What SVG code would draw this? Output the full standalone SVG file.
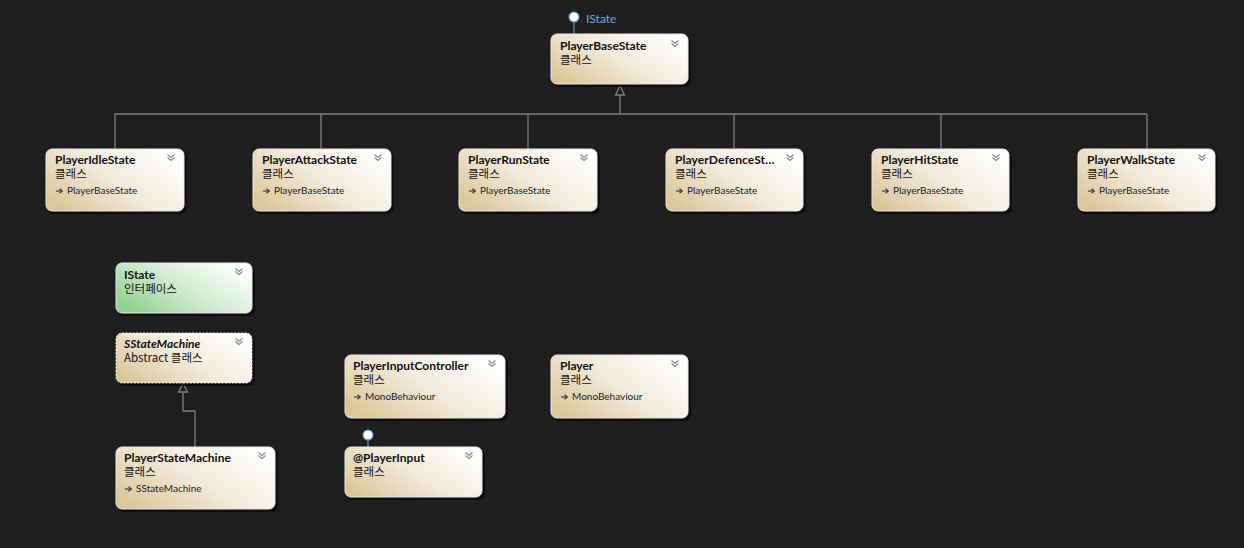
<svg xmlns="http://www.w3.org/2000/svg" width="1244" height="548" viewBox="0 0 1244 548">
<defs>
<linearGradient id="gc" x1="0" y1="0.8" x2="1" y2="0.2">
<stop offset="0" stop-color="#dac699"/>
<stop offset="0.5" stop-color="#f2ebdb"/>
<stop offset="1" stop-color="#ffffff"/>
</linearGradient>
<linearGradient id="gi" x1="0" y1="0.8" x2="1" y2="0.2">
<stop offset="0" stop-color="#90d090"/>
<stop offset="0.5" stop-color="#d2ecd2"/>
<stop offset="1" stop-color="#ffffff"/>
</linearGradient>
<symbol id="chev" viewBox="0 0 8 8" overflow="visible">
<polyline points="0.5,0.5 4,3.5 7.5,0.5" fill="none" stroke="#8a8a8a" stroke-width="1.2"/>
<polyline points="0.5,3.5 4,6.5 7.5,3.5" fill="none" stroke="#8a8a8a" stroke-width="1.2"/>
</symbol>
<symbol id="arr" viewBox="0 0 8 6" overflow="visible">
<line x1="0" y1="3" x2="6" y2="3" stroke="#333" stroke-width="1.1"/>
<polyline points="3.5,0.8 6.3,3 3.5,5.2" fill="none" stroke="#333" stroke-width="1.1"/>
</symbol>
</defs>
<style>
.bg{fill:#1e1e1e}
.sh{fill:#0a0a0a;opacity:0.8}
.box{fill:url(#gc);stroke:#e8e8e8;stroke-width:1}
.ibox{fill:url(#gi);stroke:#e8e8e8;stroke-width:1}
.abox{fill:url(#gc);stroke:#f0f0f0;stroke-width:1;stroke-dasharray:2 1.5}
.t{font-family:Lato,"Noto Sans CJK KR",sans-serif;font-size:12px;font-weight:bold;fill:#111}
.k{font-family:"Noto Sans CJK KR","Noto Sans",sans-serif;font-size:11.5px;fill:#111}
.s{font-family:Lato,"Noto Sans CJK KR",sans-serif;font-size:10px;fill:#222}
.lbl{font-family:Lato,sans-serif;font-size:12px;fill:#6fa8e0}
.conn{fill:none;stroke:#808080;stroke-width:1.3}
.tri{fill:#1e1e1e;stroke:#808080;stroke-width:1.3}
.lol{fill:#ffffff;stroke:#5b9bd5;stroke-width:1.2}
.lolline{stroke:#5b9bd5;stroke-width:1.2}
</style>
<rect class="bg" x="0" y="0" width="1244" height="548"/>

<g id="connectors">
<polyline class="conn" points="115,149 115,114 1147,114"/>
<line class="conn" x1="321" y1="114" x2="321" y2="149"/>
<line class="conn" x1="528" y1="114" x2="528" y2="149"/>
<line class="conn" x1="734" y1="114" x2="734" y2="149"/>
<line class="conn" x1="941" y1="114" x2="941" y2="149"/>
<line class="conn" x1="1147" y1="114" x2="1147" y2="149"/>
<line class="conn" x1="620" y1="95" x2="620" y2="114"/>
<polygon class="tri" points="620,85.5 615.5,95 624.5,95"/>
<polyline class="conn" points="183,392 183,411 195,411 195,447"/>
<polygon class="tri" points="183,383.5 178.5,392 187.5,392"/>
<line class="lolline" x1="574" y1="22" x2="574" y2="34"/>
<circle class="lol" cx="574" cy="17" r="5"/>
<text class="lbl" x="586" y="23">IState</text>
<line class="lolline" x1="368" y1="440" x2="368" y2="447"/>
<circle class="lol" cx="368" cy="435" r="5"/>
</g>

<g id="PlayerBaseState">
<rect class="sh" x="553" y="36" width="138" height="51" rx="6"/>
<rect class="box" x="551" y="34" width="137" height="50" rx="6"/>
<text class="t" x="560" y="50">PlayerBaseState</text>
<text class="k" x="560" y="64">클래스</text>
<use href="#chev" x="671" y="40" width="8" height="8"/>
</g>

<g id="PlayerIdleState">
<rect class="sh" x="48" y="151" width="139" height="63" rx="6"/>
<rect class="box" x="46" y="149" width="138" height="62" rx="6"/>
<text class="t" x="55" y="164">PlayerIdleState</text>
<text class="k" x="55" y="178">클래스</text>
<use href="#arr" x="56" y="188" width="8" height="6"/>
<text class="s" x="67" y="194">PlayerBaseState</text>
<use href="#chev" x="167" y="154" width="8" height="8"/>
</g>

<g id="PlayerAttackState">
<rect class="sh" x="255" y="151" width="139" height="63" rx="6"/>
<rect class="box" x="253" y="149" width="138" height="62" rx="6"/>
<text class="t" x="262" y="164">PlayerAttackState</text>
<text class="k" x="262" y="178">클래스</text>
<use href="#arr" x="263" y="188" width="8" height="6"/>
<text class="s" x="274" y="194">PlayerBaseState</text>
<use href="#chev" x="374" y="154" width="8" height="8"/>
</g>

<g id="PlayerRunState">
<rect class="sh" x="461" y="151" width="139" height="63" rx="6"/>
<rect class="box" x="459" y="149" width="138" height="62" rx="6"/>
<text class="t" x="468" y="164">PlayerRunState</text>
<text class="k" x="468" y="178">클래스</text>
<use href="#arr" x="469" y="188" width="8" height="6"/>
<text class="s" x="480" y="194">PlayerBaseState</text>
<use href="#chev" x="580" y="154" width="8" height="8"/>
</g>

<g id="PlayerDefenceState">
<rect class="sh" x="668" y="151" width="138" height="63" rx="6"/>
<rect class="box" x="666" y="149" width="137" height="62" rx="6"/>
<text class="t" x="675" y="164" letter-spacing="0.1">PlayerDefenceSt…</text>
<text class="k" x="675" y="178">클래스</text>
<use href="#arr" x="676" y="188" width="8" height="6"/>
<text class="s" x="687" y="194">PlayerBaseState</text>
<use href="#chev" x="786" y="154" width="8" height="8"/>
</g>

<g id="PlayerHitState">
<rect class="sh" x="874" y="151" width="138" height="63" rx="6"/>
<rect class="box" x="872" y="149" width="137" height="62" rx="6"/>
<text class="t" x="881" y="164">PlayerHitState</text>
<text class="k" x="881" y="178">클래스</text>
<use href="#arr" x="882" y="188" width="8" height="6"/>
<text class="s" x="893" y="194">PlayerBaseState</text>
<use href="#chev" x="992" y="154" width="8" height="8"/>
</g>

<g id="PlayerWalkState">
<rect class="sh" x="1080" y="151" width="138" height="63" rx="6"/>
<rect class="box" x="1078" y="149" width="137" height="62" rx="6"/>
<text class="t" x="1087" y="164">PlayerWalkState</text>
<text class="k" x="1087" y="178">클래스</text>
<use href="#arr" x="1088" y="188" width="8" height="6"/>
<text class="s" x="1099" y="194">PlayerBaseState</text>
<use href="#chev" x="1198" y="154" width="8" height="8"/>
</g>

<g id="IState">
<rect class="sh" x="118" y="265" width="137" height="51" rx="6"/>
<rect class="ibox" x="116" y="263" width="136" height="50" rx="6"/>
<text class="t" x="124" y="279">IState</text>
<text class="k" x="124" y="293">인터페이스</text>
<use href="#chev" x="235" y="268" width="8" height="8"/>
</g>

<g id="SStateMachine">
<rect class="sh" x="118" y="335" width="137" height="51" rx="6"/>
<rect class="abox" x="116" y="333" width="136" height="50" rx="6"/>
<text class="t" x="124" y="348" font-style="italic">SStateMachine</text>
<text class="k" x="124" y="362">Abstract 클래스</text>
<use href="#chev" x="235" y="338" width="8" height="8"/>
</g>

<g id="PlayerStateMachine">
<rect class="sh" x="118" y="449" width="160" height="63" rx="6"/>
<rect class="box" x="116" y="447" width="159" height="62" rx="6"/>
<text class="t" x="124" y="462">PlayerStateMachine</text>
<text class="k" x="124" y="476">클래스</text>
<use href="#arr" x="125" y="486" width="8" height="6"/>
<text class="s" x="136" y="492">SStateMachine</text>
<use href="#chev" x="258" y="452" width="8" height="8"/>
</g>

<g id="PlayerInputController">
<rect class="sh" x="347" y="357" width="161" height="64" rx="6"/>
<rect class="box" x="345" y="355" width="160" height="63" rx="6"/>
<text class="t" x="353" y="370">PlayerInputController</text>
<text class="k" x="353" y="384">클래스</text>
<use href="#arr" x="354" y="394" width="8" height="6"/>
<text class="s" x="365" y="400">MonoBehaviour</text>
<use href="#chev" x="488" y="360" width="8" height="8"/>
</g>

<g id="Player">
<rect class="sh" x="553" y="357" width="138" height="64" rx="6"/>
<rect class="box" x="551" y="355" width="137" height="63" rx="6"/>
<text class="t" x="560" y="370">Player</text>
<text class="k" x="560" y="384">클래스</text>
<use href="#arr" x="561" y="394" width="8" height="6"/>
<text class="s" x="572" y="400">MonoBehaviour</text>
<use href="#chev" x="671" y="360" width="8" height="8"/>
</g>

<g id="PlayerInput">
<rect class="sh" x="347" y="449" width="138" height="51" rx="6"/>
<rect class="box" x="345" y="447" width="137" height="50" rx="6"/>
<text class="t" x="353" y="462">@PlayerInput</text>
<text class="k" x="353" y="476">클래스</text>
<use href="#chev" x="465" y="452" width="8" height="8"/>
</g>
</svg>
